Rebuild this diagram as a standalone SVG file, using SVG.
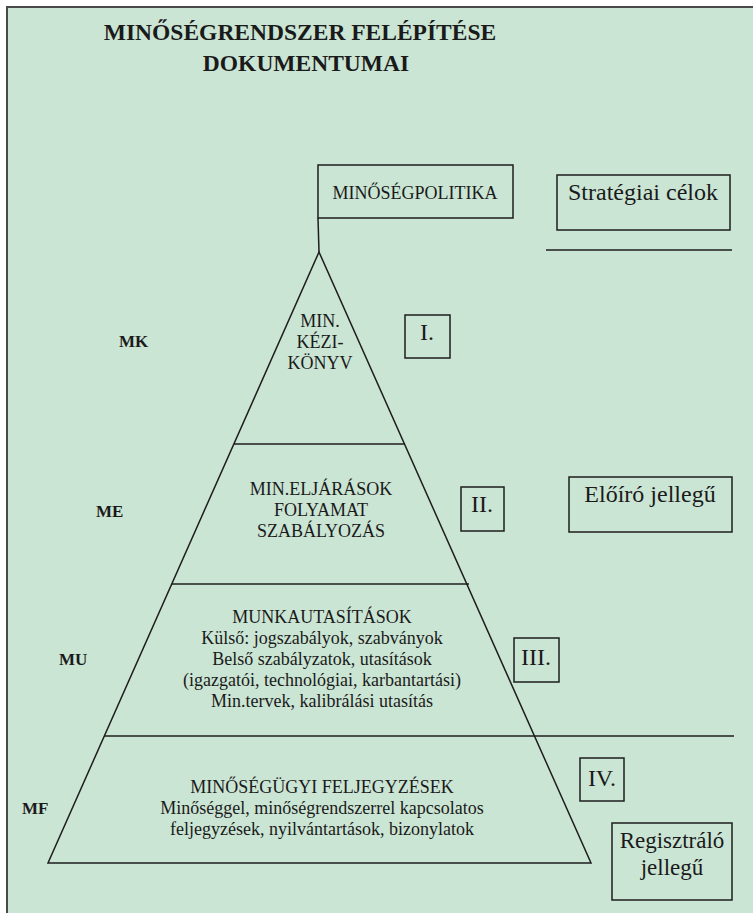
<svg xmlns="http://www.w3.org/2000/svg" width="753" height="913" viewBox="0 0 753 913">
<style>
.ln{stroke:#1e1e1e;stroke-width:1.5;fill:none}
.bx{stroke:#1e1e1e;stroke-width:1.5;fill:none}
.t{font-family:"Liberation Serif","Times New Roman",serif;fill:#1a1a1a;font-size:18px;text-anchor:middle}
.b{font-family:"Liberation Serif","Times New Roman",serif;fill:#1a1a1a;font-weight:bold}
.lg{font-size:24px}
.rn{font-size:24px}
.rg{font-size:23px}
</style>
<rect x="7" y="7" width="746" height="906" fill="#cbe5d4"/>
<path d="M7 913 V7 H753" stroke="#4a4a4a" stroke-width="2" fill="none"/>
<g id="title">
<text class="b" x="300" y="40" font-size="23.5" text-anchor="middle">MINŐSÉGRENDSZER FELÉPÍTÉSE</text>
<text class="b" x="306" y="71" font-size="23.5" text-anchor="middle">DOKUMENTUMAI</text>
</g>
<g id="connectors">
<line class="ln" x1="318" y1="218" x2="319" y2="252"/>
<polygon class="ln" points="319,252 48,863 591,863"/>
<line class="ln" x1="234" y1="444" x2="405" y2="444"/>
<line class="ln" x1="172" y1="584" x2="469" y2="584"/>
<line class="ln" x1="104" y1="736" x2="734" y2="736"/>
<line class="ln" x1="546" y1="250" x2="732" y2="250"/>
</g>
<g id="minosegpolitika">
<rect class="bx" x="318" y="165" width="195" height="53"/>
<text class="t" x="415" y="199">MINŐSÉGPOLITIKA</text>
</g>
<g id="strategiai">
<rect class="bx" x="557" y="175" width="173" height="55"/>
<text class="t lg" x="643" y="200">Stratégiai célok</text>
</g>
<g id="mk">
<text class="b" x="119" y="347" font-size="17">MK</text>
<text class="t" x="320" y="327">MIN.</text>
<text class="t" x="320" y="348">KÉZI-</text>
<text class="t" x="320" y="369">KÖNYV</text>
</g>
<g id="level1">
<rect class="bx" x="405" y="315" width="45" height="43"/>
<text class="t rn" x="427" y="340">I.</text>
</g>
<g id="me">
<text class="b" x="96" y="517" font-size="17">ME</text>
<text class="t" x="321" y="495">MIN.ELJÁRÁSOK</text>
<text class="t" x="321" y="516">FOLYAMAT</text>
<text class="t" x="321" y="537">SZABÁLYOZÁS</text>
</g>
<g id="level2">
<rect class="bx" x="461" y="487" width="43" height="44"/>
<text class="t rn" x="482" y="512">II.</text>
</g>
<g id="eloiro">
<rect class="bx" x="569" y="477" width="163" height="55"/>
<text class="t lg" x="650" y="502">Előíró jellegű</text>
</g>
<g id="mu">
<text class="b" x="59" y="665" font-size="17">MU</text>
<text class="t" x="322" y="623">MUNKAUTASÍTÁSOK</text>
<text class="t" x="322" y="644">Külső: jogszabályok, szabványok</text>
<text class="t" x="322" y="665">Belső szabályzatok, utasítások</text>
<text class="t" x="322" y="686">(igazgatói, technológiai, karbantartási)</text>
<text class="t" x="322" y="707">Min.tervek, kalibrálási utasítás</text>
</g>
<g id="level3">
<rect class="bx" x="514" y="638" width="45" height="44"/>
<text class="t rn" x="536" y="665">III.</text>
</g>
<g id="mf">
<text class="b" x="22" y="814" font-size="17">MF</text>
<text class="t" x="322" y="793">MINŐSÉGÜGYI FELJEGYZÉSEK</text>
<text class="t" x="322" y="814">Minőséggel, minőségrendszerrel kapcsolatos</text>
<text class="t" x="322" y="835">feljegyzések, nyilvántartások, bizonylatok</text>
</g>
<g id="level4">
<rect class="bx" x="580" y="758" width="44" height="43"/>
<text class="t rn" x="602" y="786">IV.</text>
</g>
<g id="regisztralo">
<rect class="bx" x="612" y="823" width="120" height="77"/>
<text class="t rg" x="672" y="848">Regisztráló</text>
<text class="t rg" x="672" y="875">jellegű</text>
</g>
</svg>
